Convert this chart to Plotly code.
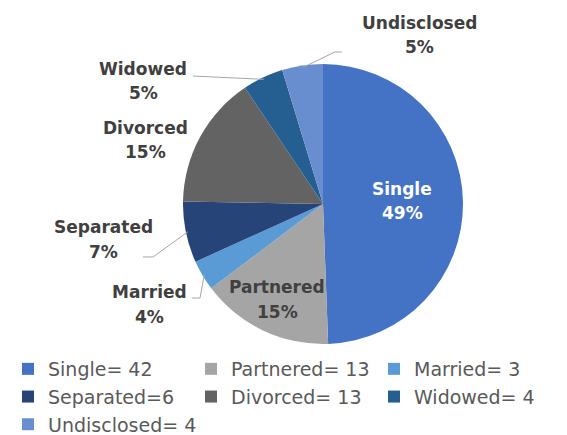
"""
Pie chart of marital status with a three-column legend at the bottom.
"""
import math
import plotly.graph_objects as go

# data
categories = ['Single', 'Partnered', 'Married', 'Separated', 'Divorced', 'Widowed', 'Undisclosed']
counts = [42, 13, 3, 6, 13, 4, 4]
legend_names = ['Single= 42', 'Partnered= 13', 'Married= 3', 'Separated=6',
                'Divorced= 13', 'Widowed= 4', 'Undisclosed= 4']
colors = ['#4472C4', '#A5A5A5', '#5B9BD5', '#264478', '#636363', '#255E91', '#698ED0']

# the page body has an 8px margin, so the figure is shrunk by that much
OFF = 8
W, H = 567 - OFF, 435 - OFF
# pie centre / radius in screen pixels
CX, CY, R = 323, 204, 140


def px_to_paper(x, y):
    return (x - OFF) / W, 1 - (y - OFF) / H


total = sum(counts)
pct = [round(c / total * 100) for c in counts]

x0, y0 = px_to_paper(CX - R, CY + R)
x1, y1 = px_to_paper(CX + R, CY - R)

fig = go.Figure()
fig.add_trace(go.Pie(
    labels=legend_names,
    values=counts,
    sort=False,
    direction='clockwise',
    rotation=0,
    marker=dict(colors=colors, line=dict(width=0)),
    textinfo='none',
    domain=dict(x=[x0, x1], y=[y0, y1]),
    hoverinfo='label+percent',
))

# slice labels: (x centre, y of name line, y of percent line) and optional
# leader line points (label end, elbow) in screen pixels
label_pos = {
    'Single': dict(text=(402, 189, 213), line=None, color='white'),
    'Partnered': dict(text=(277, 287, 312), line=None, color='#404040'),
    'Married': dict(text=(149, 292, 317), line=[(192, 298), (200, 298)], color='#404040'),
    'Separated': dict(text=(104, 227, 252), line=[(143, 257), (153, 257)], color='#404040'),
    'Divorced': dict(text=(145, 128, 152), line=None, color='#404040'),
    'Widowed': dict(text=(143, 69, 93), line=[(193, 76)], color='#404040'),
    'Undisclosed': dict(text=(419, 23, 47), line=[(342, 52), (335, 52)], color='#404040'),
}

cum = 0
for cat, val, p in zip(categories, counts, pct):
    mid = (cum + val / 2) / total * 2 * math.pi
    cum += val
    spec = label_pos[cat]
    lx, ly1, ly2 = spec['text']
    for txt, ly in ((cat, ly1), (f'{p}%', ly2)):
        tx, ty = px_to_paper(lx, ly)
        fig.add_annotation(
            x=tx, y=ty, xref='paper', yref='paper',
            xanchor='center', yanchor='middle',
            text=f'<b>{txt}</b>', showarrow=False,
            font=dict(family='DejaVu Sans', size=17, color=spec['color']),
        )
    if spec['line']:
        ex = CX + (R - 2) * math.sin(mid)
        ey = CY - (R - 2) * math.cos(mid)
        pts = [px_to_paper(*q) for q in spec['line']] + [px_to_paper(ex, ey)]
        path = 'M ' + ' L '.join(f'{a:.4f},{b:.4f}' for a, b in pts)
        fig.add_shape(type='path', path=path, xref='paper', yref='paper',
                      line=dict(color='#A6A6A6', width=1))

fig.update_layout(
    width=W, height=H,
    margin=dict(l=0, r=0, t=0, b=0, autoexpand=False),
    paper_bgcolor='white',
    plot_bgcolor='white',
    showlegend=True,
    legend=dict(
        orientation='h',
        x=0, y=px_to_paper(0, 350)[1], xanchor='left', yanchor='top',
        entrywidth=138, entrywidthmode='pixels',
        font=dict(family='DejaVu Sans', size=19, color='#595959'),
        itemclick=False,
    ),
)

fig.write_html('out.html')
